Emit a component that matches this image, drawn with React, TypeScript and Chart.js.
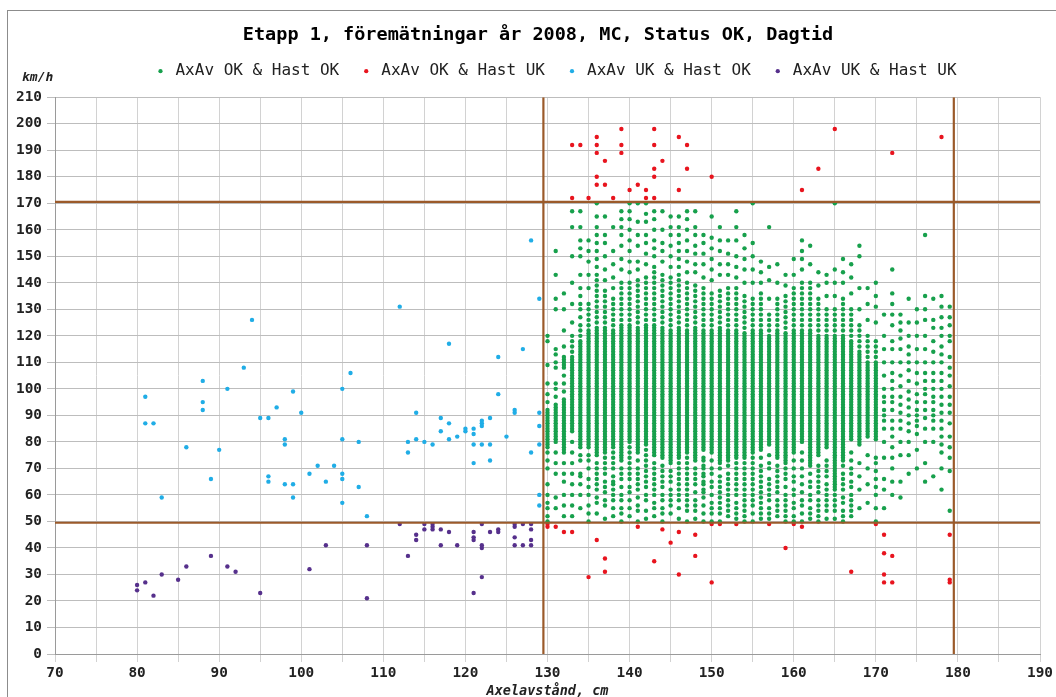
import React, { useEffect, useRef } from 'react';
import { Chart, registerables } from 'chart.js';

Chart.register(...registerables);

const MONO = '"DejaVu Sans Mono", "Liberation Mono", monospace';

const TITLE = 'Etapp 1, föremätningar år 2008, MC, Status OK, Dagtid';
const SERIES_NAMES = ['AxAv OK & Hast OK', 'AxAv OK & Hast UK', 'AxAv UK & Hast OK', 'AxAv UK & Hast UK'];
const SERIES_COLORS = ['#17a04c', '#e8141e', '#20ade6', '#56308c'];
const X_TITLE = 'Axelavstånd, cm';
const Y_UNIT = 'km/h';
const X_RANGE = [70, 190];
const Y_RANGE = [0, 210];
const X_STEP = 5;
const X_LABEL_STEP = 10;
const Y_STEP = 10;
const LIMIT_X = [129.5, 179.5];
const LIMIT_Y = [49.5, 170.5];
const LIMIT_COLOR = '#9b5a2a';

// AxAv OK & Hast OK: one row per wheelbase (cm): speeds.
// "a-b" = a solid run of every km/h from a to b, "a-b/2" = every second km/h.
const okOkColumns: string[] = [
  '130: 50 52 55 57 60 64 70 73 76 78-92 95 98 102 109 118 120',
  '131: 55 59 68 72 76 80-94 97 100 102 108 110 113 115 130 134 143 152',
  '132: 52 56 60 65 68 72 76-96 99 102 105 108-112 116 122 130 136',
  '133: 52 56 60 64 68 72 76 80 84-112 114-120/2 125 132 140 150 161 167',
  '134: 55 60 64 67 68 73 75 78-118 120-124/2 127 130 132 135 138 143 150 153 156 161 167',
  '135: 50 53 56 60 63 66 70 73 75 78-122 124-132/2 138 143 148 152 156',
  '136: 53 57 59 62 64 66 68 70 72 75-123 125-141/2 143 146 149 152 155 158 161 165 170',
  '137: 51 56 58 61 63 65 68 70 72 74 76-123 125-137/2 141 145 150 155 158 165',
  '138: 52 55 58 60 62 64 65 67 70 72 74 76 78-122 124-134/2 138 142 147 152 161',
  '139: 50 53 55 58 60 63 66 68 70 73-124 126-140/2 145 149 154 158 161 164 167',
  '140: 52 55 58 61 63 66 68 70 72 74 76 78 80-124 126-140/2 144 148 152 156 160 164 167 170',
  '141: 50 54 56 59 62 64 66 68 70 73 76-123 125-141/2 145 148 154 158 163 170',
  '142: 51 54 58 60 63 65 67 69 71 73 75 77 79-124 126-142/2 147 151 155 158 163 166 170',
  '143: 52 55 57 60 62 64 66 68 70 72 75-124 126-146/2 150 153 156 160 164 167',
  '144: 50 53 55 58 60 63 65 67 69 71 74-123 125-143/2 148 152 155 160 167',
  '145: 53 56 58 60 62 65 67 69 72-122 124-142/2 146 150 154 158 161 165',
  '146: 51 55 58 60 62 64 66 68 70 72 74-123 125-143/2 146 149 152 155 158 161 165',
  '147: 50 54 56 58 60 62 64 66 68 70 72 74 76-122 124-140/2 144 148 152 156 160 164 167',
  '148: 51 54 56 58 61 64 66 68 70 73-123 125-139/2 144 147 151 154 158 161 167',
  '149: 50 53 56 59 61 62 64 65 67 68 70 71 73 74 77-122 124-138/2 142 147 151 155 158',
  '150: 50 53 55 57 60 63 65 68 70 73 76-122 124-136/2 141 145 149 153 157 165',
  '151: 50 53 55 57 59 61 63 65 67 70 72-123 125-137/2 143 147 152 156 161',
  '152: 52 54 56 58 60 62 64 66 68 71 73-122 124-138/2 143 147 151 156',
  '153: 51 53 55 57 60 62 64 66 68 70 72 74-122 124-138/2 142 146 150 156 161 167',
  '154: 50 52 54 56 58 60 62 64 66 68 70 72 74-121 123-135/2 140 145 149 153 158',
  '155: 50 53 56 58 60 62 64 66 68 70 72 74 76-122 124-134/2 140 145 150 155 170',
  '156: 51 53 55 57 59 61 63 65 67 69 71 74 77-122 124-136/2 140 144 148',
  '157: 51 53 55 58 60 62 64 66 70 72 75 79-120 122-128/2 134 141 146 161',
  '158: 52 54 56 58 61 63 65 67 69 71 74-122 124-134/2 140 147',
  '159: 50 52 54 56 58 60 63 66 68 70 72-121 123-135/2 139 143',
  '160: 50 52 55 57 60 62 65 67 70 73 76-122 124-138/2 143 149',
  '161: 50 53 56 58 61 64 67 70 73 76 80-122 124-140/2 145 149 152 156',
  '162: 51 53 55 58 60 63 65 68 71-122 124-140/2 147 154',
  '163: 50 52 54 56 58 61 63 65 67 69 71 75-120 122-134/2 139 144',
  '164: 51 54 56 58 60 62 64 67 69 71 73 78-120 122-130/2 135 140 143',
  '165: 51 54 56 58 60 62-120 122-130/2 135 140 145 170',
  '166: 50 52 54 57 59 62 64 66 68 71 73-120 122-134/2 140 144 149',
  '167: 52 54 56 58 60 63 65 68 70 73 76 81-118 120-130/2 136 142 147',
  '168: 55 62 67 72 79-114 116-124/2 130 138 150 154',
  '169: 57 64 70 75 82-110 112-120/2 126 132 138',
  '170: 50 55 60 63 66 69 72 74 81-110 112-118/2 125 131 135 140',
  '171: 55 62 66 74 80 85 88 90 92 95 97 100 105 110 115 120 128',
  '172: 60 65 70 74 78 82 85 88 92 95 97 100 103 106 110 115 118 124 128 132 136 145',
  '173: 59 65 75 80 85 88 91 94 97 101 105 110 115 119 122 125 128',
  '174: 68 75 80 84 87 90 93 96 99 103 107 110 113 116 120 125 134',
  '175: 70 77 83 86 88 90 92 95 98 102 106 110 115 120 125 130',
  '176: 65 72 80 85 89 92 95 98 100 103 106 110 115 120 126 130 135 158',
  '177: 67 80 85 88 90 92 95 97 100 103 106 110 114 118 123 126 134',
  '178: 62 70 76 79 82 85 88 91 94 97 100 103 106 110 113 116 120 123 127 131 135',
  '179: 54 69 74 78 82 87 91 94 97 101 105 108 112 118 120 124 127 131',
];

// AxAv OK & Hast UK: [wheelbase, speed]
const okUkPoints: number[][] = [
  [133, 192], [134, 192], [136, 195], [136, 192], [136, 189], [137, 186], [136, 180], [136, 177], [137, 177],
  [139, 198], [139, 192], [139, 189], [133, 172], [135, 172], [138, 172], [140, 175], [141, 177], [142, 175],
  [142, 172], [143, 172], [143, 198], [143, 192], [143, 183], [143, 180], [144, 186], [146, 195], [147, 192],
  [147, 183], [146, 175], [150, 180], [161, 175], [163, 183], [165, 198], [172, 189], [178, 195],
  [130, 49], [130, 48], [131, 48], [132, 46], [133, 46], [135, 29], [136, 43], [137, 36], [137, 31], [141, 48],
  [143, 35], [144, 47], [145, 42], [146, 46], [146, 30], [148, 45], [148, 37], [150, 49], [150, 27], [151, 49],
  [153, 49], [157, 49], [159, 40], [160, 49], [161, 48], [167, 31], [170, 49], [171, 45], [171, 38], [172, 37],
  [171, 30], [171, 27], [172, 27], [179, 45], [179, 28], [179, 27],
];

// AxAv UK & Hast OK
const ukOkPoints: number[][] = [
  [81, 97], [81, 87], [82, 87], [83, 59], [86, 78], [88, 103], [88, 95], [88, 92], [89, 66], [90, 77], [91, 100],
  [93, 108], [94, 126], [95, 89], [96, 89], [96, 67], [96, 65], [97, 93], [98, 81], [98, 79], [98, 64], [99, 64],
  [99, 99], [99, 59], [100, 91], [101, 68], [102, 71], [103, 65], [104, 71], [105, 100], [105, 81], [105, 68],
  [105, 66], [105, 57], [106, 106], [107, 80], [107, 63], [108, 52], [112, 131], [113, 80], [113, 76], [114, 91],
  [114, 81], [115, 80], [116, 79], [117, 89], [117, 84], [118, 117], [118, 87], [118, 81], [119, 82], [120, 85],
  [120, 84], [121, 85], [121, 83], [121, 79], [121, 72], [122, 88], [122, 87], [122, 86], [122, 79], [123, 89],
  [123, 79], [123, 73], [124, 112], [124, 98], [125, 82], [126, 92], [126, 91], [127, 115], [128, 156], [128, 76],
  [129, 134], [129, 91], [129, 86], [129, 79], [129, 60], [129, 56],
];

// AxAv UK & Hast UK
const ukUkPoints: number[][] = [
  [80, 26], [80, 24], [81, 27], [82, 22], [83, 30], [85, 28], [86, 33], [89, 37], [91, 33], [92, 31], [95, 23],
  [101, 32], [103, 41], [108, 41], [108, 21], [112, 49], [113, 37], [114, 45], [114, 43], [115, 49], [115, 47],
  [116, 49], [116, 48], [116, 47], [117, 47], [117, 41], [118, 46], [119, 41], [121, 46], [121, 44], [121, 43],
  [121, 23], [122, 49], [122, 41], [122, 40], [122, 29], [123, 46], [124, 47], [124, 46], [126, 49], [126, 48],
  [126, 44], [126, 41], [127, 49], [127, 41], [128, 49], [128, 47], [128, 43], [128, 41],
];

function expandColumns(rows: string[]) {
  const out: { x: number; y: number }[] = [];
  rows.forEach((row) => {
    const [xs, rest] = row.split(':');
    const x = Number(xs);
    rest.trim().split(/\s+/).forEach((tok) => {
      if (tok.includes('-')) {
        const [range, stepStr] = tok.split('/');
        const [a, b] = range.split('-').map(Number);
        const step = stepStr ? Number(stepStr) : 1;
        for (let y = a; y <= b; y += step) out.push({ x, y });
      } else {
        out.push({ x, y: Number(tok) });
      }
    });
  });
  return out;
}

const toXY = (pts: number[][]) => pts.map(([x, y]) => ({ x, y }));

const blockShiftPlugin = {
  id: 'blockShift',
  afterLayout(chart: any) {
    const t = chart.titleBlock;
    if (t) {
      t.left += 17;
      t.right += 17;
    }
    const l = chart.legend;
    if (l) {
      l.left += 34;
      l.right += 34;
      l.top -= 8;
      l.bottom -= 8;
    }
  },
};

const yUnitPlugin = {
  id: 'yUnit',
  afterDraw(chart: any) {
    const { ctx, chartArea } = chart;
    ctx.save();
    ctx.font = `italic bold 13px ${MONO}`;
    ctx.fillStyle = '#222';
    ctx.textAlign = 'left';
    ctx.textBaseline = 'middle';
    ctx.fillText(Y_UNIT, chartArea.left - 33, chartArea.top - 20);
    ctx.restore();
  },
};

export default function App() {
  const ref = useRef<HTMLCanvasElement | null>(null);

  useEffect(() => {
    const seriesData = [expandColumns(okOkColumns), toXY(okUkPoints), toXY(ukOkPoints), toXY(ukUkPoints)];
    const scatterSets = SERIES_NAMES.map((name, i) => ({
      label: name,
      data: seriesData[i],
      backgroundColor: SERIES_COLORS[i],
      borderColor: SERIES_COLORS[i],
      borderWidth: 0,
      pointRadius: 2.2,
      pointHoverRadius: 2.2,
      pointStyle: 'circle',
      order: 1,
    }));
    const limitSets = [
      ...LIMIT_X.map((v) => ({
        label: '',
        isLimit: true,
        data: [{ x: v, y: Y_RANGE[0] }, { x: v, y: Y_RANGE[1] }],
      })),
      ...LIMIT_Y.map((v) => ({
        label: '',
        isLimit: true,
        data: [{ x: X_RANGE[0], y: v }, { x: X_RANGE[1], y: v }],
      })),
    ].map((d) => ({
      ...d,
      showLine: true,
      borderColor: LIMIT_COLOR,
      backgroundColor: LIMIT_COLOR,
      borderWidth: 2.2,
      pointRadius: 0,
      pointHoverRadius: 0,
      order: 0,
    }));

    const chart = new Chart(ref.current as HTMLCanvasElement, {
      type: 'scatter',
      data: { datasets: [...scatterSets, ...limitSets] as any },
      plugins: [blockShiftPlugin, yUnitPlugin],
      options: {
        animation: false,
        responsive: false,
        maintainAspectRatio: false,
        devicePixelRatio: 1,
        events: [],
        layout: { padding: { left: 0, right: 14, top: 0, bottom: 0 } },
        plugins: {
          title: {
            display: true,
            text: TITLE,
            color: '#000',
            font: { family: MONO, size: 18.5, weight: 'bold', lineHeight: 1.2 },
            padding: { top: 24, bottom: 5 },
          },
          legend: {
            display: true,
            position: 'top',
            labels: {
              color: '#222',
              font: { family: MONO, size: 16 },
              usePointStyle: true,
              boxWidth: 14,
              boxHeight: 3,
              padding: 20,
              filter: (item: any, data: any) => !data.datasets[item.datasetIndex].isLimit,
            },
          },
          tooltip: { enabled: false },
        },
        scales: {
          x: {
            type: 'linear',
            min: X_RANGE[0],
            max: X_RANGE[1],
            afterFit: (s: any) => {
              s.height = 43;
            },
            ticks: {
              stepSize: X_STEP,
              autoSkip: false,
              maxRotation: 0,
              padding: 3,
              color: '#222',
              font: { family: MONO, size: 14.4, weight: 'bold' },
              callback: (v: any) => (Number(v) % X_LABEL_STEP === 0 ? String(v) : ''),
            },
            grid: { color: '#d2d2d2', lineWidth: 1, tickLength: 8 },
            border: { color: '#9a9a9a' },
            title: {
              display: true,
              text: X_TITLE,
              color: '#222',
              font: { family: MONO, size: 13.5, weight: 'bold', style: 'italic' },
              padding: { top: 2, bottom: -3 },
            },
          },
          y: {
            type: 'linear',
            min: Y_RANGE[0],
            max: Y_RANGE[1],
            afterFit: (s: any) => {
              s.width = 55;
            },
            ticks: {
              stepSize: Y_STEP,
              autoSkip: false,
              padding: 5,
              color: '#222',
              font: { family: MONO, size: 14.4, weight: 'bold' },
            },
            grid: { color: '#bdbdbd', lineWidth: 1, tickLength: 8 },
            border: { color: '#9a9a9a' },
          },
        },
      } as any,
    });
    return () => chart.destroy();
  }, []);

  return (
    <div
      style={{
        position: 'fixed',
        left: 0,
        top: 0,
        width: 1056,
        height: 697,
        background: '#fff',
        overflow: 'hidden',
      }}
    >
      <canvas ref={ref} width={1056} height={697} style={{ display: 'block', width: 1056, height: 697 }} />
      <div
        style={{
          position: 'absolute',
          left: 7,
          top: 10,
          right: 0,
          bottom: 0,
          borderLeft: '1px solid #8c8c8c',
          borderTop: '1px solid #8c8c8c',
          pointerEvents: 'none',
        }}
      />
    </div>
  );
}
